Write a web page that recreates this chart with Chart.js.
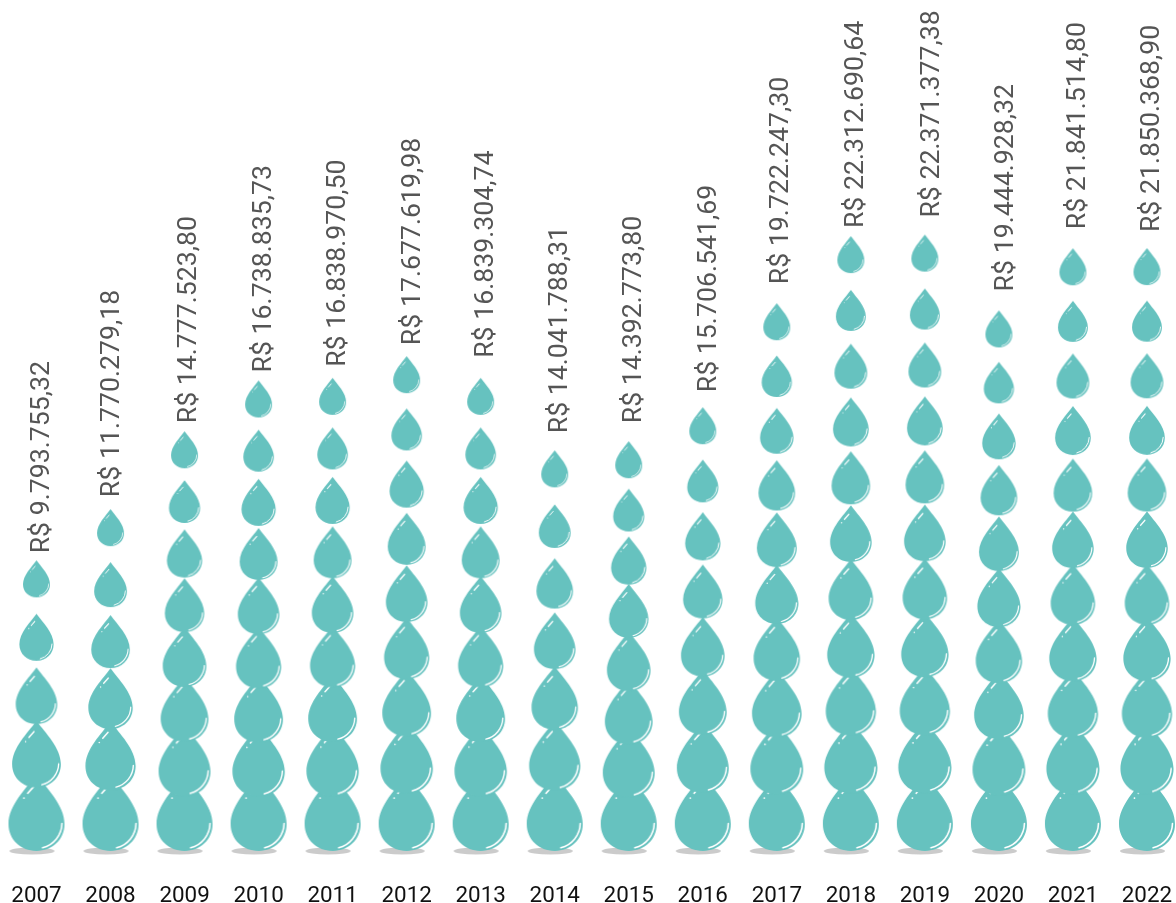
<!DOCTYPE html>
<html><head><meta charset="utf-8">
<style>html,body{margin:0;padding:0;background:#fff}canvas{display:block}</style>
<script src="https://cdn.jsdelivr.net/npm/chart.js@4"></script>
</head><body><canvas id="c" width="1176" height="903"></canvas>
<script>
const years = [2007,2008,2009,2010,2011,2012,2013,2014,2015,2016,2017,2018,2019,2020,2021,2022];
const values = [9793755.32,11770279.18,14777523.80,16738835.73,16838970.50,17677619.98,16839304.74,14041788.31,14392773.80,15706541.69,19722247.30,22312690.64,22371377.38,19444928.32,21841514.80,21850368.90];
const labels = ["R$ 9.793.755,32","R$ 11.770.279,18","R$ 14.777.523,80","R$ 16.738.835,73","R$ 16.838.970,50","R$ 17.677.619,98","R$ 16.839.304,74","R$ 14.041.788,31","R$ 14.392.773,80","R$ 15.706.541,69","R$ 19.722.247,30","R$ 22.312.690,64","R$ 22.371.377,38","R$ 19.444.928,32","R$ 21.841.514,80","R$ 21.850.368,90"];
const dropCounts = [5,6,8,9,9,9,9,7,8,8,10,11,11,10,11,11];

const TEAL = '#66c2bf';
function dropSprite(w){
  const h = w*1.37, pad = 3;
  const c = document.createElement('canvas');
  c.width = Math.ceil(w)+pad*2; c.height = Math.ceil(h+pad)*2;
  const g = c.getContext('2d');
  g.translate(c.width/2, c.height/2); g.scale(w,w);
  g.beginPath(); g.moveTo(0,-1.37);
  g.bezierCurveTo(0.18,-1.12,0.5,-0.82,0.5,-0.48);
  g.bezierCurveTo(0.5,-0.2,0.28,0,0,0);
  g.bezierCurveTo(-0.28,0,-0.5,-0.2,-0.5,-0.48);
  g.bezierCurveTo(-0.5,-0.82,-0.18,-1.12,0,-1.37);
  g.closePath(); g.fillStyle = TEAL; g.fill();
  g.strokeStyle = '#fff'; g.fillStyle = '#fff'; g.lineCap = 'round';
  g.lineWidth = 0.028;
  g.beginPath(); g.arc(0,-0.5,0.455,0.02,1.33); g.stroke();
  g.lineWidth = 0.03;
  g.beginPath(); g.moveTo(-0.05,-1.15); g.lineTo(-0.155,-1.03); g.stroke();
  g.beginPath(); g.arc(-0.224,-0.945,0.016,0,Math.PI*2); g.fill();
  return c;
}
function shadowSprite(){
  const c = document.createElement('canvas');
  c.width = 58; c.height = 12;
  const g = c.getContext('2d');
  g.fillStyle = '#cbcbcb';
  g.beginPath(); g.ellipse(24.5,6,22.5,3.6,0,0,Math.PI*2); g.fill();
  return c;
}
const dropPoints = [], dropStyles = [], shadowPoints = [], shadowStyle = shadowSprite();
years.forEach((yr,k)=>{
  const n = dropCounts[k];
  shadowPoints.push({x:yr,y:0});
  for(let i=0;i<n;i++){
    const t = i/(n-1);
    dropPoints.push({x:yr, y:values[k]*t});
    dropStyles.push(dropSprite(56-29*t));
  }
});
// label placement relative to each column's scale position (pixels)
const LABEL_LIFT = [44,49,45,45,48,48,57,54,55,52,56,45,54,56,56,53];
const LABEL_SHIFT = [6,2,5,6,6,7,6,6,6,7,5,5,7,7,5,5.5];
const labelPlugin = {
  id:'rotLabels',
  afterDatasetsDraw(chart){
    const {ctx,scales:{x,y}} = chart;
    ctx.save();
    ctx.font = '26.7px Roboto'; ctx.fillStyle = '#555555';
    ctx.textAlign = 'left'; ctx.textBaseline = 'middle';
    years.forEach((yr,k)=>{
      ctx.save();
      ctx.translate(x.getPixelForValue(yr)+LABEL_SHIFT[k], y.getPixelForValue(values[k])-LABEL_LIFT[k]);
      ctx.rotate(-Math.PI/2);
      ctx.fillText(labels[k],0,0);
      ctx.restore();
    });
    ctx.restore();
  }
};
const PX_X = 74.03, X0 = 36.5, PX_M = 25.9/1e6, Y0 = 851, AREA_BOTTOM = 860;
new Chart(document.getElementById('c'),{
  type:'scatter',
  data:{datasets:[
    {data:dropPoints,pointStyle:dropStyles,pointRadius:3,showLine:false,clip:false,order:1},
    {data:shadowPoints,pointStyle:shadowStyle,pointRadius:3,showLine:false,clip:false,order:2}
  ]},
  options:{
    responsive:false,animation:false,
    layout:{padding:0,autoPadding:false},
    plugins:{legend:{display:false},tooltip:{enabled:false}},
    scales:{
      x:{type:'linear',min:2007-X0/PX_X,max:2007+(1176-X0)/PX_X,
        grid:{display:false,drawTicks:false},border:{display:false},
        afterBuildTicks(s){s.ticks=years.map(v=>({value:v}));},
        afterFit(s){s.height=903-AREA_BOTTOM;s.paddingLeft=0;s.paddingRight=0;},
        ticks:{autoSkip:false,maxRotation:0,padding:23,color:'#111',font:{family:'Roboto',size:22.4},callback:v=>String(v)}},
      y:{display:false,min:-(AREA_BOTTOM-Y0)/PX_M,max:Y0/PX_M}
    }
  },
  plugins:[labelPlugin]
});
</script></body></html>
